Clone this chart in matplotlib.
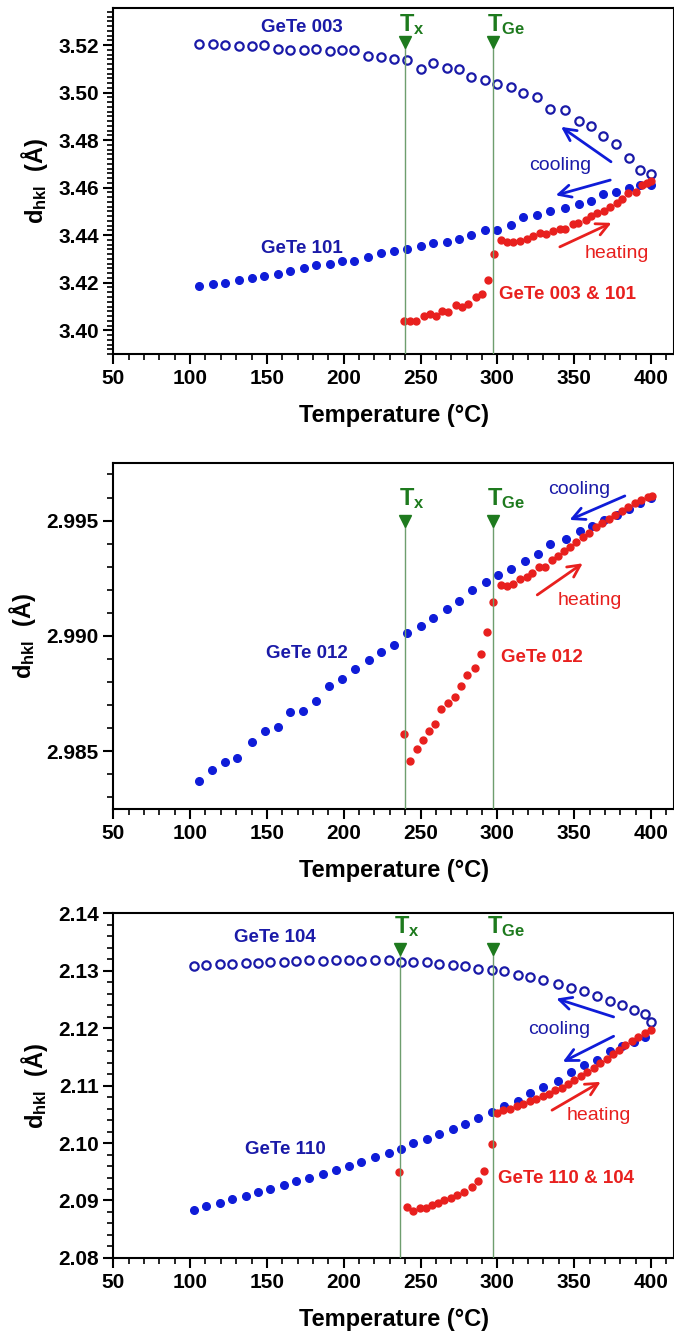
import matplotlib
matplotlib.use("Agg")
import matplotlib.pyplot as plt
from matplotlib.ticker import MultipleLocator

plt.rcParams['font.family'] = ['Liberation Sans', 'DejaVu Sans']
plt.rcParams['font.weight'] = 'bold'
plt.rcParams['mathtext.fontset'] = 'custom'
plt.rcParams['mathtext.rm'] = 'Liberation Sans:bold'
plt.rcParams['mathtext.bf'] = 'Liberation Sans:bold'
plt.rcParams['mathtext.it'] = 'Liberation Sans:bold'

# ---- panel 1 : GeTe 003 / 101 ----
t_top = [106, 115, 123, 132, 140, 148, 157, 165, 174, 182, 191, 199, 207, 216, 224, 233, 241, 250,
         258, 267, 275, 283, 292, 300, 309, 317, 326, 334, 344, 353, 361, 369, 377, 386, 393, 400]
gete003 = [3.5203, 3.5203, 3.5200, 3.5197, 3.5197, 3.5200, 3.5183, 3.5180, 3.5178, 3.5182, 3.5175,
           3.5180, 3.5179, 3.5154, 3.5148, 3.5142, 3.5137, 3.5099, 3.5123, 3.5102, 3.5099, 3.5067,
           3.5053, 3.5036, 3.5025, 3.4999, 3.4980, 3.4933, 3.4929, 3.4881, 3.4859, 3.4817, 3.4783,
           3.4725, 3.4674, 3.4657]
gete101 = [3.4185, 3.4194, 3.4200, 3.4210, 3.4218, 3.4227, 3.4238, 3.4251, 3.4262, 3.4276, 3.4280,
           3.4293, 3.4293, 3.4308, 3.4325, 3.4332, 3.4344, 3.4354, 3.4368, 3.4373, 3.4385, 3.4403,
           3.4421, 3.4421, 3.4442, 3.4477, 3.4483, 3.4503, 3.4514, 3.4531, 3.4545, 3.4573, 3.4583,
           3.4597, 3.4611, 3.4611]
t_heat_top = [239, 243, 247, 252, 256, 260, 264, 268, 273, 277, 281, 286, 290, 294, 298, 302.5, 306,
              310, 315, 319, 323, 328, 332, 336, 341, 344, 349, 352.5, 357.5, 361, 365, 369.5, 373.5,
              378, 381, 385, 390, 394, 397.5, 400]
heat_top = [3.4038, 3.4038, 3.4038, 3.4062, 3.4069, 3.4058, 3.4080, 3.4078, 3.4108, 3.4097, 3.4111,
            3.4139, 3.4151, 3.4213, 3.4323, 3.4379, 3.4370, 3.4370, 3.4376, 3.4384, 3.4396, 3.4410,
            3.4404, 3.4418, 3.4427, 3.4427, 3.4446, 3.4452, 3.4466, 3.4480, 3.4492, 3.4503, 3.4517,
            3.4534, 3.4551, 3.4579, 3.4582, 3.4613, 3.4621, 3.4629]

# ---- panel 2 : GeTe 012 ----
t_mid = [105.6, 114.6, 122.8, 130.6, 140.2, 148.6, 157.0, 165.2, 173.3, 182.0, 190.4, 199.2, 207.3,
         216.3, 224.2, 232.9, 241.3, 250.3, 258.4, 267.4, 275.3, 283.4, 292.4, 300.6, 308.7, 317.7,
         326.7, 334.6, 344.4, 353.7, 361.8, 369.7, 378.1, 386.0, 392.7, 400.0]
gete012 = [2.98371, 2.98419, 2.98455, 2.98470, 2.98539, 2.98588, 2.98607, 2.98671, 2.98676, 2.98720,
           2.98785, 2.98812, 2.98855, 2.98896, 2.98929, 2.98962, 2.99012, 2.99043, 2.99077, 2.99116,
           2.99153, 2.99198, 2.99233, 2.99264, 2.99289, 2.99327, 2.99357, 2.99399, 2.99422, 2.99457,
           2.99477, 2.99503, 2.99525, 2.99549, 2.99575, 2.99597]
t_heat_mid = [239.3, 243.3, 247.5, 251.4, 255.3, 259.3, 263.2, 267.7, 272.2, 276.4, 280.3, 285.4,
              289.3, 293.5, 297.5, 302.2, 306.5, 310.1, 314.6, 319.1, 322.8, 327.0, 331.2, 335.4,
              339.3, 343.5, 347.2, 351.4, 355.6, 359.8, 364.0, 368.3, 372.5, 376.7, 380.9, 385.1,
              389.3, 393.5, 397.8, 400.6]
heat_mid = [2.98575, 2.98460, 2.98510, 2.98549, 2.98590, 2.98618, 2.98682, 2.98708, 2.98734, 2.98783,
            2.98829, 2.98860, 2.98921, 2.99016, 2.99147, 2.99220, 2.99218, 2.99225, 2.99246, 2.99257,
            2.99273, 2.99301, 2.99301, 2.99329, 2.99348, 2.99370, 2.99387, 2.99406, 2.99431, 2.99448,
            2.99471, 2.99488, 2.99507, 2.99525, 2.99543, 2.99561, 2.99575, 2.99590, 2.99601, 2.99608]

# ---- panel 3 : GeTe 104 / 110 ----
t_bot = [102.4, 110.5, 119.2, 127.3, 136.2, 144.1, 152.2, 161.2, 169.0, 177.1, 186.4, 195.3, 203.2,
         211.3, 220.3, 229.2, 237.1, 245.2, 254.4, 262.3, 271.2, 279.1, 287.5, 296.4, 304.3, 313.2,
         321.1, 330.0, 339.3, 348.2, 356.1, 365.0, 373.4, 381.3, 389.1, 396.4, 400.0]
gete104 = [2.13073, 2.13097, 2.13120, 2.13120, 2.13137, 2.13137, 2.13154, 2.13154, 2.13166, 2.13178,
           2.13172, 2.13178, 2.13178, 2.13172, 2.13178, 2.13178, 2.13154, 2.13143, 2.13143, 2.13120,
           2.13097, 2.13085, 2.13027, 2.13004, 2.12992, 2.12923, 2.12888, 2.12830, 2.12772, 2.12703,
           2.12645, 2.12564, 2.12471, 2.12402, 2.12321, 2.12240, 2.12106]
gete110 = [2.08834, 2.08909, 2.08950, 2.09019, 2.09077, 2.09153, 2.09205, 2.09274, 2.09338, 2.09396,
           2.09465, 2.09529, 2.09598, 2.09674, 2.09749, 2.09830, 2.09894, 2.09992, 2.10073, 2.10160,
           2.10247, 2.10328, 2.10433, 2.10543, 2.10641, 2.10734, 2.10873, 2.10977, 2.11081, 2.11238,
           2.11359, 2.11452, 2.11597, 2.11695, 2.11759, 2.11846]
t_heat_bot = [236.2, 241.3, 245.2, 249.4, 253.3, 257.2, 261.4, 265.6, 269.8, 274.0, 278.2, 283.3,
              287.2, 291.4, 296.4, 299.8, 304.0, 308.5, 312.7, 316.9, 321.1, 325.3, 329.5, 333.7,
              337.6, 341.8, 346.0, 350.2, 354.4, 358.6, 362.8, 367.0, 371.2, 375.4, 379.0, 383.2,
              387.4, 391.6, 395.8, 400.0]
heat_bot = [2.09500, 2.08892, 2.08817, 2.08863, 2.08875, 2.08915, 2.08950, 2.09008, 2.09037, 2.09095,
            2.09153, 2.09240, 2.09338, 2.09512, 2.09981, 2.10525, 2.10572, 2.10595, 2.10641, 2.10687,
            2.10728, 2.10774, 2.10815, 2.10861, 2.10919, 2.10965, 2.11023, 2.11093, 2.11162, 2.11232,
            2.11313, 2.11394, 2.11469, 2.11544, 2.11625, 2.11701, 2.11776, 2.11846, 2.11915, 2.11961]

BLUE = '#0f1cd8'
NAVY = '#1a1aa8'
RED = '#e8201e'
GREEN = '#1e7a1e'
LINEG = '#6e9e6e'
THIN = ['Liberation Sans', 'DejaVu Sans']

fig = plt.figure(figsize=(6.74, 13.38), dpi=100)


def setup(ax, ylim, ymaj, ymin, fmt):
    ax.set_xlim(50, 415)
    ax.set_ylim(*ylim)
    ax.xaxis.set_major_locator(MultipleLocator(50))
    ax.xaxis.set_minor_locator(MultipleLocator(10))
    ax.yaxis.set_major_locator(MultipleLocator(ymaj))
    ax.yaxis.set_minor_locator(MultipleLocator(ymin))
    ax.yaxis.set_major_formatter(plt.FormatStrFormatter(fmt))
    ax.tick_params(which='major', direction='out', length=7, width=1.5, labelsize=15)
    ax.tick_params(which='minor', direction='out', length=4, width=1.2)
    ax.tick_params(top=False, right=False)
    for s in ax.spines.values():
        s.set_linewidth(1.5)
    ax.set_xlabel('Temperature (°C)', fontsize=17, fontweight='bold', labelpad=12)
    ax.set_ylabel(r'$\mathbf{d_{hkl}}$  (Å)', fontsize=17, fontweight='bold', labelpad=6)


def marks(ax, tx, tge, ytri, ylow, ytxt):
    for t, lab in ((tx, r'$\mathbf{T_x}$'), (tge, r'$\mathbf{T_{Ge}}$')):
        ax.plot([t, t], [ylow, ytri], color=LINEG, lw=1.0, zorder=4)
        ax.plot(t, ytri, marker='v', ms=8, color=GREEN, zorder=5, clip_on=False)
        ax.text(t - 4, ytxt, lab, color=GREEN, fontsize=17, ha='left', va='center')


def arrow(ax, tail, head, color):
    ax.annotate('', xy=head, xytext=tail,
                arrowprops=dict(arrowstyle='->', color=color, lw=2, mutation_scale=22,
                                shrinkA=0, shrinkB=0))


# top panel
ax1 = fig.add_axes([0.168, 0.7354, 0.832, 0.2586])
setup(ax1, (3.39, 3.5356), 0.02, 0.002, '%.2f')
ax1.plot(t_top, gete003, 'o', ms=6, mfc='white', mec=NAVY, mew=1.6, zorder=3)
ax1.plot(t_top, gete101, 'o', ms=5.5, color=BLUE, zorder=3)
ax1.plot(t_heat_top, heat_top, 'o', ms=5, color=RED, zorder=3)
marks(ax1, 240, 297, 3.5212, 3.39, 3.5285)
ax1.text(173, 3.5275, 'GeTe 003', color=NAVY, fontsize=13.5, ha='center', va='center')
ax1.text(173, 3.4344, 'GeTe 101', color=NAVY, fontsize=13.5, ha='center', va='center')
ax1.text(346, 3.4149, 'GeTe 003 & 101', color=RED, fontsize=13.5, ha='center', va='center')
ax1.text(341, 3.4695, 'cooling', color=NAVY, fontsize=14, fontweight='normal', ha='center', va='center',
         family=THIN)
ax1.text(378, 3.4323, 'heating', color=RED, fontsize=14, fontweight='normal', ha='center', va='center',
         family=THIN)
arrow(ax1, (374, 3.4709), (341.5, 3.4856), BLUE)
arrow(ax1, (373.5, 3.4632), (338, 3.4568), BLUE)
arrow(ax1, (340.7, 3.4351), (374.3, 3.4452), RED)

# middle panel
ax2 = fig.add_axes([0.168, 0.3954, 0.832, 0.2586])
setup(ax2, (2.9825, 2.9975), 0.005, 0.001, '%.3f')
ax2.plot(t_mid, gete012, 'o', ms=5.5, color=BLUE, zorder=3)
ax2.plot(t_heat_mid, heat_mid, 'o', ms=5, color=RED, zorder=3)
marks(ax2, 240, 297.5, 2.995, 2.9825, 2.99597)
ax2.text(176, 2.98925, 'GeTe 012', color=NAVY, fontsize=13.5, ha='center', va='center')
ax2.text(329, 2.98908, 'GeTe 012', color=RED, fontsize=13.5, ha='center', va='center')
ax2.text(353, 2.99636, 'cooling', color=NAVY, fontsize=14, fontweight='normal', ha='center', va='center',
         family=THIN)
ax2.text(360, 2.99153, 'heating', color=RED, fontsize=14, fontweight='normal', ha='center', va='center',
         family=THIN)
arrow(ax2, (383, 2.99607), (347, 2.99503), BLUE)
arrow(ax2, (326, 2.99178), (355.6, 2.99315), RED)

# bottom panel
ax3 = fig.add_axes([0.168, 0.0598, 0.832, 0.2578])
setup(ax3, (2.08, 2.14), 0.01, 0.002, '%.2f')
ax3.plot(t_bot, gete104, 'o', ms=6, mfc='white', mec=NAVY, mew=1.6, zorder=3)
ax3.plot(t_bot[:len(gete110)], gete110, 'o', ms=5.5, color=BLUE, zorder=3)
ax3.plot(t_heat_bot, heat_bot, 'o', ms=5, color=RED, zorder=3)
marks(ax3, 236.5, 297, 2.1338, 2.08, 2.1376)
ax3.text(155, 2.1357, 'GeTe 104', color=NAVY, fontsize=13.5, ha='center', va='center')
ax3.text(162, 2.0988, 'GeTe 110', color=NAVY, fontsize=13.5, ha='center', va='center')
ax3.text(345, 2.0938, 'GeTe 110 & 104', color=RED, fontsize=13.5, ha='center', va='center')
ax3.text(340, 2.1197, 'cooling', color=NAVY, fontsize=14, fontweight='normal', ha='center', va='center',
         family=THIN)
ax3.text(366, 2.1047, 'heating', color=RED, fontsize=14, fontweight='normal', ha='center', va='center',
         family=THIN)
arrow(ax3, (375.7, 2.12193), (338.4, 2.12512), BLUE)
arrow(ax3, (375.7, 2.11857), (342.6, 2.11411), BLUE)
arrow(ax3, (335.6, 2.10571), (367.3, 2.11064), RED)

fig.savefig('out.png', dpi=100)
